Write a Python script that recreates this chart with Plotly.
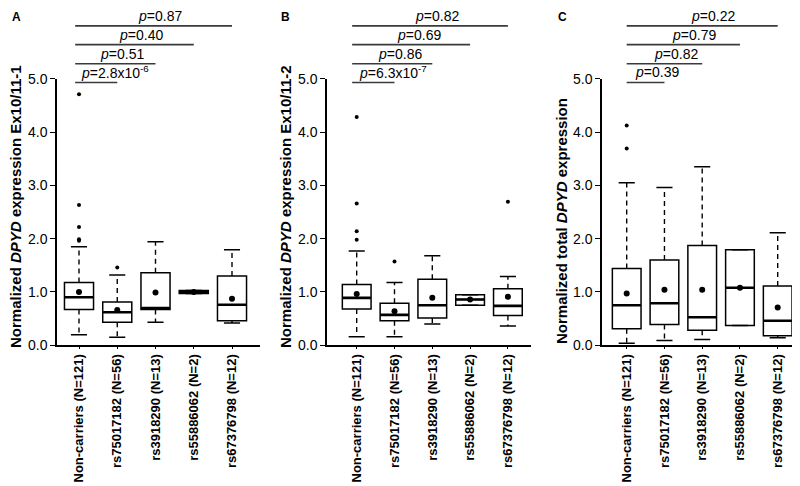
import plotly.graph_objects as go

# ---------------- data ----------------
categories = ["Non-carriers (N=121)", "rs75017182 (N=56)", "rs3918290 (N=13)",
              "rs55886062 (N=2)", "rs67376798 (N=12)"]
y_ticks = [0, 1, 2, 3, 4, 5]

# Panel A: Ex10/11-1
A_q1 = [0.67, 0.43, 0.67, 0.97, 0.46]
A_median = [0.90, 0.62, 0.70, 1.00, 0.76]
A_q3 = [1.18, 0.81, 1.36, 1.03, 1.30]
A_lower = [0.20, 0.15, 0.43, 0.97, 0.42]
A_upper = [1.85, 1.32, 1.94, 1.03, 1.79]
A_mean = [1.00, 0.66, 0.99, 1.00, 0.875]
A_outliers = [[4.71, 2.63, 2.22, 1.99, 1.96], [1.46], [], [], []]
A_pvalues = ["<i>p</i>=2.8x10<sup>-6</sup>", "<i>p</i>=0.51", "<i>p</i>=0.40", "<i>p</i>=0.87"]

# Panel B: Ex10/11-2
B_q1 = [0.68, 0.46, 0.51, 0.75, 0.56]
B_median = [0.89, 0.57, 0.75, 0.86, 0.74]
B_q3 = [1.14, 0.79, 1.24, 0.95, 1.06]
B_lower = [0.16, 0.16, 0.40, 0.75, 0.36]
B_upper = [1.77, 1.18, 1.68, 0.95, 1.29]
B_mean = [0.96, 0.64, 0.89, 0.86, 0.91]
B_outliers = [[4.28, 2.66, 2.14, 1.98], [1.57], [], [], [2.69]]
B_pvalues = ["<i>p</i>=6.3x10<sup>-7</sup>", "<i>p</i>=0.86", "<i>p</i>=0.69", "<i>p</i>=0.82"]

# Panel C: total
C_q1 = [0.31, 0.39, 0.28, 0.37, 0.18]
C_median = [0.75, 0.79, 0.525, 1.08, 0.46]
C_q3 = [1.44, 1.60, 1.87, 1.79, 1.11]
C_lower = [0.04, 0.09, 0.11, 0.37, 0.14]
C_upper = [3.05, 2.96, 3.35, 1.79, 2.11]
C_mean = [0.97, 1.04, 1.04, 1.08, 0.71]
C_outliers = [[4.12, 3.69], [], [], [], []]
C_pvalues = ["<i>p</i>=0.39", "<i>p</i>=0.82", "<i>p</i>=0.79", "<i>p</i>=0.22"]

bracket_levels = [4.93, 5.28, 5.64, 5.99]
panel_letters = ["A", "B", "C"]
y_titles = ["Normalized <i>DPYD</i> expression Ex10/11-1",
            "Normalized <i>DPYD</i> expression Ex10/11-2",
            "Normalized total <i>DPYD</i> expression"]

# ---------------- layout / style ----------------
W, H = 800, 486
FONT = "Liberation Sans, Arial, Helvetica, sans-serif"
y0_px, y5_px = 337.3, 70.7
ydom = [1 - y0_px / H, 1 - y5_px / H]
YMAX = 5.0
panels = [
    dict(q1=A_q1, med=A_median, q3=A_q3, lo=A_lower, hi=A_upper, mean=A_mean,
         out=A_outliers, pv=A_pvalues, ax=(49, 252), c0=71.0, step=38.25,
         title_x=8, title_y=199, letter_x=8, text_dx=0, br_x0=-0.1),
    dict(q1=B_q1, med=B_median, q3=B_q3, lo=B_lower, hi=B_upper, mean=B_mean,
         out=B_outliers, pv=B_pvalues, ax=(319, 523), c0=348.7, step=37.8,
         title_x=278, title_y=199, letter_x=277, text_dx=0, br_x0=-0.12),
    dict(q1=C_q1, med=C_median, q3=C_q3, lo=C_lower, hi=C_upper, mean=C_mean,
         out=C_outliers, pv=C_pvalues, ax=(594, 798), c0=618.7, step=37.75,
         title_x=554, title_y=213, letter_x=554, text_dx=6, br_x0=0.0),
]

fig = go.Figure()
shapes = []
annotations = []
layout_axes = {}
positions = list(range(len(categories)))

for k, p in enumerate(panels):
    sfx = "" if k == 0 else str(k + 1)
    xa, ya = "x" + sfx, "y" + sfx
    # box body (no whiskers from plotly)
    fig.add_trace(go.Box(
        x=positions, q1=p["q1"], median=p["med"], q3=p["q3"],
        lowerfence=p["q1"], upperfence=p["q3"], width=0.76, whiskerwidth=0,
        fillcolor="rgba(255,255,255,0)", line=dict(color="black", width=1.5),
        boxpoints=False, hoverinfo="skip", showlegend=False, xaxis=xa, yaxis=ya))
    # thick median (line-ew symbol is 1.4*size wide)
    fig.add_trace(go.Scatter(
        x=positions, y=p["med"], mode="markers", showlegend=False,
        marker=dict(symbol="line-ew", size=20, line=dict(color="black", width=2.6)),
        xaxis=xa, yaxis=ya))
    # dashed whiskers
    wx, wy = [], []
    for i in positions:
        wx += [i, i, None, i, i, None]
        wy += [p["q3"][i], p["hi"][i], None, p["q1"][i], p["lo"][i], None]
    fig.add_trace(go.Scatter(
        x=wx, y=wy, mode="lines", showlegend=False,
        line=dict(color="black", width=1.4, dash="5px,4px"), xaxis=xa, yaxis=ya))
    # whisker caps
    fig.add_trace(go.Scatter(
        x=positions + positions, y=p["hi"] + p["lo"], mode="markers", showlegend=False,
        marker=dict(symbol="line-ew", size=11.5, line=dict(color="black", width=1.5)),
        xaxis=xa, yaxis=ya))
    # outliers
    ox, oy = [], []
    for i, vals in enumerate(p["out"]):
        ox += [i] * len(vals)
        oy += vals
    fig.add_trace(go.Scatter(
        x=ox, y=oy, mode="markers", showlegend=False,
        marker=dict(color="black", size=4), xaxis=xa, yaxis=ya))
    # means
    fig.add_trace(go.Scatter(
        x=positions, y=p["mean"], mode="markers", showlegend=False,
        marker=dict(color="black", size=6), xaxis=xa, yaxis=ya))

    # axes
    left, right = p["ax"]
    xr = [(left - p["c0"]) / p["step"], (right - p["c0"]) / p["step"]]
    layout_axes["xaxis" + sfx] = dict(
        domain=[left / W, right / W], range=xr, anchor=ya,
        tickvals=positions, ticktext=categories, tickangle=-90,
        tickfont=dict(family=FONT, size=13, color="black", weight="bold"),
        showline=True, linecolor="black", linewidth=1.5, ticks="outside",
        ticklen=2, tickwidth=1.2, tickcolor="black", showgrid=False, zeroline=False)
    layout_axes["yaxis" + sfx] = dict(
        domain=ydom, range=[0, YMAX], anchor=xa, tickvals=y_ticks, tickformat=".1f",
        tickfont=dict(family=FONT, size=14, color="black"),
        showline=True, linecolor="black", linewidth=1.5, ticks="outside",
        ticklen=5, tickwidth=1.2, tickcolor="black", showgrid=False, zeroline=False)

    # significance brackets
    for j, lvl in enumerate(bracket_levels):
        kk = j + 1
        shapes.append(dict(type="line", xref=xa, yref=ya + " domain",
                           x0=p["br_x0"], x1=kk, y0=lvl / YMAX, y1=lvl / YMAX,
                           line=dict(color="#3a3a3a", width=1.6)))
        annotations.append(dict(xref=xa, yref=ya + " domain", x=(kk - 1) / 2,
                                y=lvl / YMAX, xanchor="left", yanchor="middle",
                                yshift=10, xshift=p["text_dx"], showarrow=False,
                                text=p["pv"][j],
                                font=dict(family=FONT, size=14, color="black")))
    # y title
    annotations.append(dict(xref="paper", yref="paper", x=p["title_x"] / W,
                            y=1 - p["title_y"] / H, xanchor="center", yanchor="middle",
                            textangle=-90, showarrow=False,
                            text="<b>" + y_titles[k] + "</b>",
                            font=dict(family=FONT, size=15, color="black")))
    # panel letter
    annotations.append(dict(xref="paper", yref="paper", x=p["letter_x"] / W,
                            y=1 - 9 / H, xanchor="center", yanchor="middle",
                            showarrow=False, text="<b>" + panel_letters[k] + "</b>",
                            font=dict(family=FONT, size=12, color="black")))

fig.update_layout(
    width=W, height=H, margin=dict(l=0, r=0, t=0, b=0),
    paper_bgcolor="white", plot_bgcolor="white", template="none",
    showlegend=False, shapes=shapes, annotations=annotations,
    font=dict(family=FONT, color="black"), **layout_axes)

fig.write_html("out.html")
